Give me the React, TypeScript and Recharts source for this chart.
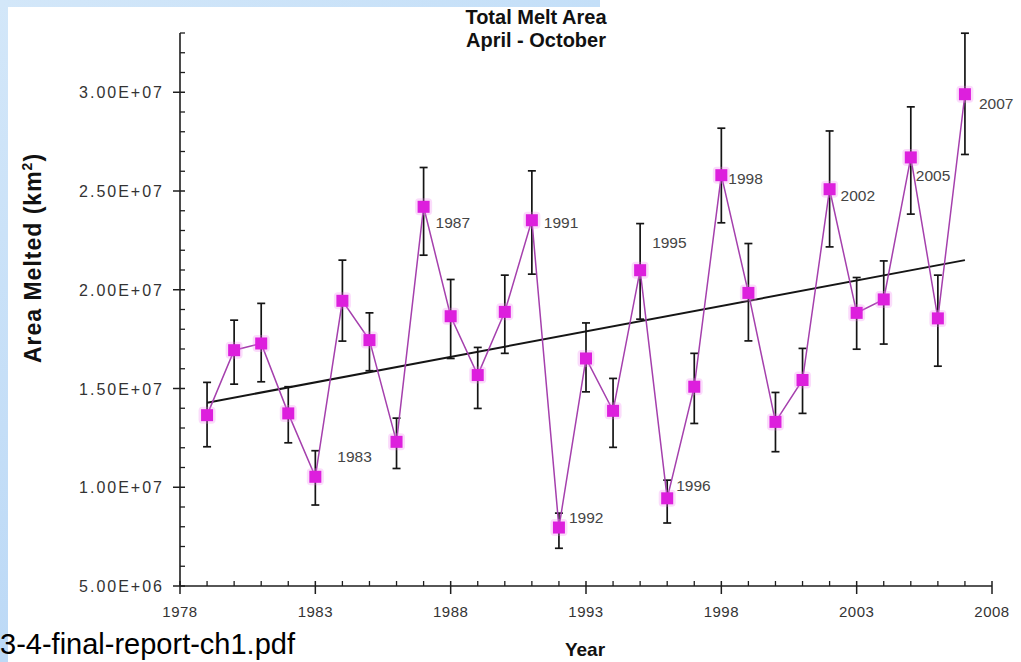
import React from 'react';
import { ComposedChart, Line, XAxis, YAxis, ErrorBar, LabelList } from 'recharts';

// ---- data ----
const years = [1979, 1980, 1981, 1982, 1983, 1984, 1985, 1986, 1987, 1988, 1989, 1990, 1991, 1992, 1993, 1994, 1995, 1996, 1997, 1998, 1999, 2000, 2001, 2002, 2003, 2004, 2005, 2006, 2007];
const meltArea = [13.65e6, 16.94e6, 17.28e6, 13.74e6, 10.53e6, 19.44e6, 17.45e6, 12.3e6, 24.2e6, 18.66e6, 15.68e6, 18.88e6, 23.52e6, 7.96e6, 16.52e6, 13.87e6, 20.99e6, 9.44e6, 15.09e6, 25.8e6, 19.84e6, 13.31e6, 15.43e6, 25.09e6, 18.83e6, 19.51e6, 26.7e6, 18.55e6, 29.9e6];
const errUpper = [1.66e6, 1.52e6, 2.03e6, 1.35e6, 1.32e6, 2.06e6, 1.38e6, 1.2e6, 1.99e6, 1.86e6, 1.4e6, 1.86e6, 2.5e6, 0.73e6, 1.8e6, 1.64e6, 2.36e6, 0.92e6, 1.69e6, 2.38e6, 2.5e6, 1.49e6, 1.6e6, 2.95e6, 1.79e6, 1.95e6, 2.56e6, 2.19e6, 3.09e6];
const errLower = [1.6e6, 1.72e6, 1.94e6, 1.49e6, 1.43e6, 2.04e6, 1.55e6, 1.35e6, 2.45e6, 2.14e6, 1.69e6, 2.1e6, 2.73e6, 1.05e6, 1.69e6, 1.85e6, 2.48e6, 1.25e6, 1.86e6, 2.41e6, 2.43e6, 1.51e6, 1.69e6, 2.92e6, 1.84e6, 2.26e6, 2.87e6, 2.42e6, 3.05e6];
const labeledYears = ['1983', '1987', '1991', '1992', '1995', '1996', '1998', '2002', '2005', '2007'];
const trendYears = [1979, 2007];
const trendValues = [14.28e6, 21.5e6];

const xMajorTicks = [1978, 1983, 1988, 1993, 1998, 2003, 2008];
const xTickLabels = ['1978', '1983', '1988', '1993', '1998', '2003', '2008'];
const yMajorTicks = [5e6, 1e7, 1.5e7, 2e7, 2.5e7, 3e7];
const yTickLabels = ['5.00E+06', '1.00E+07', '1.50E+07', '2.00E+07', '2.50E+07', '3.00E+07'];

const titleLines = ['Total Melt  Area', 'April - October'];
const yAxisTitle = 'Area Melted (km';
const xAxisTitle = 'Year';
const sourceText = '3-4-final-report-ch1.pdf';

// ---- table for the library ----
const tableData = years.map((y, i) => {
  const ti = trendYears.indexOf(y);
  return {
    year: y,
    area: meltArea[i],
    err: [errLower[i], errUpper[i]],
    label: labeledYears.includes(String(y)) ? String(y) : '',
    trend: ti >= 0 ? trendValues[ti] : null,
  };
});

const xAllTicks: number[] = [];
for (let v = 1978; v <= 2008; v++) xAllTicks.push(v);
const yAllTicks: number[] = [];
for (let k = 5; k <= 33; k++) yAllTicks.push(k * 1e6);

// ---- styles ----
const FONT = '"Liberation Sans", Arial, Helvetica, sans-serif';
const AXIS = '#1e1e1e';
const TICK_TEXT = '#333';
const labelOffsets: Record<string, [number, number]> = {
  '1983': [22, -15],
  '1987': [12, 21],
  '1991': [12, 8],
  '1992': [10, -5],
  '1995': [12, -22],
  '1996': [9, -7],
  '1998': [7, 9],
  '2002': [11, 12],
  '2005': [5, 24],
  '2007': [14, 15],
};

const XTick = (props: any) => {
  const { x, y, payload } = props;
  const v = payload.value;
  const mi = xMajorTicks.indexOf(v);
  if (mi >= 0) {
    return (
      <g>
        <line x1={x} x2={x} y1={y - 5} y2={y + 8} stroke={AXIS} strokeWidth={1.5} />
        <text x={x} y={y + 31} textAnchor="middle" fontFamily={FONT} fontSize={15} letterSpacing={0.5} fill={TICK_TEXT}>
          {xTickLabels[mi]}
        </text>
      </g>
    );
  }
  return <line x1={x} x2={x} y1={y - 5} y2={y} stroke={AXIS} strokeWidth={1.3} />;
};

const YTick = (props: any) => {
  const { x, y, payload } = props;
  const v = payload.value;
  const mi = yMajorTicks.indexOf(v);
  if (mi >= 0) {
    return (
      <g>
        <line x1={x - 7} x2={x + 5} y1={y} y2={y} stroke={AXIS} strokeWidth={1.5} />
        <text x={x - 16} y={y + 6} textAnchor="end" fontFamily={FONT} fontSize={16} letterSpacing={2} fill={TICK_TEXT}>
          {yTickLabels[mi]}
        </text>
      </g>
    );
  }
  return <line x1={x} x2={x + 5} y1={y} y2={y} stroke={AXIS} strokeWidth={1.3} />;
};

const SquareDot = (props: any) => {
  const { cx, cy, index } = props;
  if (cx == null || cy == null) return <g key={`d${index}`} />;
  return (
    <g key={`d${index}`}>
      <rect x={cx - 8.5} y={cy - 8.5} width={17} height={17} fill="#f080f0" opacity={0.28} rx={4} />
      <rect x={cx - 6} y={cy - 6} width={12} height={12} fill="#dd1fdd" />
    </g>
  );
};

const PointLabel = (props: any) => {
  const { x, y, value } = props;
  if (!value) return null;
  const off = labelOffsets[value] || [10, 0];
  return (
    <text x={x + off[0]} y={y + off[1]} fontFamily={FONT} fontSize={15.5} fill="#444">
      {value}
    </text>
  );
};

export default function App() {
  return (
    <div style={{ position: 'absolute', left: 0, top: 0, width: 1021, height: 662, background: '#ffffff', overflow: 'hidden' }}>
      <div style={{ position: 'absolute', left: 0, top: 0, width: 8, height: 662, background: 'linear-gradient(180deg, #d3e7f9 0%, #bcd9f6 100%)' }} />
      <div style={{ position: 'absolute', left: 0, top: 0, width: 600, height: 7, background: 'linear-gradient(90deg, #d3e7f9 0%, #c4dff8 100%)' }} />
      <div style={{ position: 'absolute', left: 0, top: 0 }}>
        <ComposedChart width={1021} height={662} data={tableData} margin={{ top: 33, right: 29, bottom: 36, left: 8 }}>
          <XAxis
            dataKey="year"
            type="number"
            domain={[1978, 2008]}
            ticks={xAllTicks}
            interval={0}
            tick={<XTick />}
            tickLine={false}
            tickSize={0}
            tickMargin={0}
            height={40}
            axisLine={{ stroke: AXIS, strokeWidth: 1.6 }}
            allowDataOverflow
          />
          <YAxis
            type="number"
            domain={[5e6, 3.3e7]}
            ticks={yAllTicks}
            interval={0}
            tick={<YTick />}
            tickLine={false}
            tickSize={0}
            tickMargin={0}
            width={172}
            axisLine={{ stroke: AXIS, strokeWidth: 1.6 }}
            allowDataOverflow
          />
          <Line
            dataKey="trend"
            connectNulls
            stroke="#151515"
            strokeWidth={2}
            dot={false}
            activeDot={false}
            isAnimationActive={false}
          />
          <Line
            dataKey="area"
            stroke="#a540ad"
            strokeWidth={1.5}
            dot={<SquareDot />}
            activeDot={false}
            isAnimationActive={false}
          >
            <ErrorBar dataKey="err" direction="y" width={4} stroke="#151515" strokeWidth={1.7} />
            <LabelList dataKey="label" content={<PointLabel />} />
          </Line>
        </ComposedChart>
      </div>
      <div style={{ position: 'absolute', left: 336, top: 6, width: 400, textAlign: 'center', fontFamily: FONT, fontWeight: 'bold', fontSize: 20, lineHeight: '23px', color: '#111' }}>
        <div>{titleLines[0]}</div>
        <div>{titleLines[1]}</div>
      </div>
      <div style={{ position: 'absolute', left: 33, top: 258, width: 0, height: 0 }}>
        <div style={{ position: 'absolute', left: 0, top: 0, transform: 'translate(-50%, -50%) rotate(-90deg)', whiteSpace: 'nowrap', fontFamily: FONT, fontWeight: 'bold', fontSize: 23, letterSpacing: 1, color: '#111' }}>
          {yAxisTitle}<sup style={{ fontSize: 14 }}>2</sup>)
        </div>
      </div>
      <div style={{ position: 'absolute', left: 585, top: 650, width: 0, height: 0 }}>
        <div style={{ position: 'absolute', left: 0, top: 0, transform: 'translate(-50%, -50%)', whiteSpace: 'nowrap', fontFamily: FONT, fontWeight: 'bold', fontSize: 19, color: '#111' }}>
          {xAxisTitle}
        </div>
      </div>
      <div style={{ position: 'absolute', left: 0, top: 627, whiteSpace: 'nowrap', fontFamily: FONT, fontSize: 29, lineHeight: '34px', color: '#000' }}>
        {sourceText}
      </div>
    </div>
  );
}
